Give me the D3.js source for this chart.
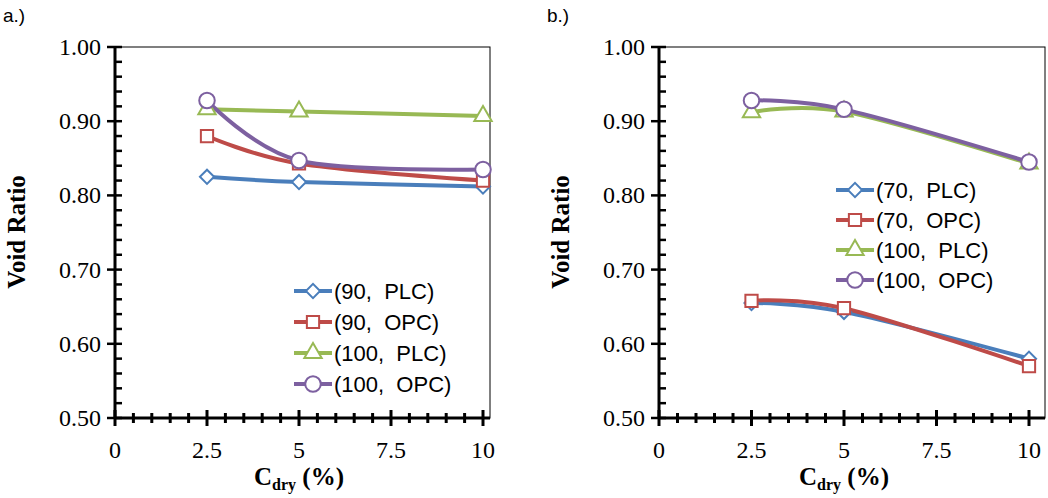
<!DOCTYPE html><html><head><meta charset="utf-8">
<script src="https://cdn.jsdelivr.net/npm/d3@7"></script>
<style>body{margin:0;background:#fff} text{white-space:pre}</style></head><body>
<svg id="c" width="1048" height="498"></svg>
<script>
const xVals=[2.5,5,10];
const xTicks=[0,2.5,5,7.5,10];
const yTicks=[0.5,0.6,0.7,0.8,0.9,1.0];
const colors=["#4a7ebb","#be4b48","#98b954","#7d60a0"];
const markers=["diamond","square","triangle","circle"];
const labelsA=["(90,  PLC)","(90,  OPC)","(100,  PLC)","(100,  OPC)"];
const valuesA=[[0.825,0.818,0.812],[0.880,0.843,0.820],[0.916,0.913,0.907],[0.928,0.847,0.835]];
const labelsB=["(70,  PLC)","(70,  OPC)","(100,  PLC)","(100,  OPC)"];
const valuesB=[[0.655,0.643,0.580],[0.658,0.648,0.570],[0.912,0.913,0.843],[0.928,0.916,0.845]];

const svg=d3.select("#c");
const symMap={diamond:d3.symbolSquare,square:d3.symbolSquare,triangle:d3.symbolTriangle,circle:d3.symbolCircle};
const sizes={diamond:100,square:150,triangle:130,circle:190};
function mk(g,k,cx,cy){
  const m=markers[k];
  g.append("path").attr("d",d3.symbol().type(symMap[m]).size(sizes[m])()).attr("transform",`translate(${cx},${cy})`+(m==="diamond"?" rotate(45)":"")).attr("fill","#fff").attr("stroke",colors[k]).attr("stroke-width",2);
}
function panel(o){
  const x=d3.scaleLinear().domain([0,10]).range([o.x0,o.x10]);
  const y=d3.scaleLinear().domain([0.5,1.0]).range([418,47]);
  const g=svg.append("g");
  g.append("rect").attr("x",o.x0).attr("y",47).attr("width",o.right-o.x0).attr("height",371).attr("fill","none").attr("stroke","#000").attr("stroke-width",1);
  g.append("line").attr("x1",o.x0).attr("x2",o.right).attr("y1",418).attr("y2",418).attr("stroke","#000").attr("stroke-width",3);
  g.append("line").attr("x1",o.x0).attr("x2",o.x0).attr("y1",47).attr("y2",418).attr("stroke","#000").attr("stroke-width",3);
  d3.range(0,10.01,0.5).forEach(v=>{const maj=Math.abs(v/2.5-Math.round(v/2.5))<1e-6;
    g.append("line").attr("x1",x(v)).attr("x2",x(v)).attr("y1",maj?410:413).attr("y2",maj?426:423).attr("stroke","#000").attr("stroke-width",3);});
  xTicks.forEach(v=>g.append("text").attr("x",x(v)).attr("y",458).attr("text-anchor","middle").attr("font-family","Liberation Serif").attr("font-size",24).text(v));
  d3.range(0.5,1.001,0.02).forEach(v=>{const maj=Math.abs(v*10-Math.round(v*10))<1e-6;
    g.append("line").attr("x1",maj?o.x0-8:o.x0).attr("x2",o.x0+7).attr("y1",y(v)).attr("y2",y(v)).attr("stroke","#000").attr("stroke-width",2.5);});
  yTicks.forEach(v=>g.append("text").attr("x",o.x0-14).attr("y",y(v)+8).attr("text-anchor","end").attr("font-family","Liberation Serif").attr("font-size",24).text(v.toFixed(2)));
  const t=g.append("text").attr("x",(o.x0+o.x10)/2).attr("y",485).attr("text-anchor","middle").attr("font-family","Liberation Serif").attr("font-weight","bold").attr("font-size",25);
  t.append("tspan").text("C");t.append("tspan").attr("font-size",16).attr("dy",5).text("dry");t.append("tspan").attr("dy",-5).text(" (%)");
  g.append("text").attr("transform",`translate(${o.x0-90},232) rotate(-90)`).attr("text-anchor","middle").attr("font-family","Liberation Serif").attr("font-weight","bold").attr("font-size",25).text("Void Ratio");
  g.append("text").attr("x",o.x0-112).attr("y",22).attr("font-family","Liberation Sans").attr("font-size",19).text(o.title);
  const line=d3.line().x((d,i)=>x(xVals[i])).y(d=>y(d)).curve(d3.curveCardinal.tension(0));
  o.values.forEach((vals,k)=>g.append("path").attr("d",line(vals)).attr("fill","none").attr("stroke",colors[k]).attr("stroke-width",4));
  o.values.forEach((vals,k)=>vals.forEach((v,i)=>mk(g,k,x(xVals[i]),y(v))));
  o.labels.forEach((l,k)=>{
    const ly=o.ly+k*o.ld;
    g.append("line").attr("x1",o.lx).attr("x2",o.lx+38).attr("y1",ly).attr("y2",ly).attr("stroke",colors[k]).attr("stroke-width",4);
    mk(g,k,o.lx+19,ly);
    g.append("text").attr("x",o.lx+40).attr("y",ly+8).attr("font-family","Liberation Sans").attr("font-size",22).text(l);
  });
}
panel({x0:115,x10:483,right:490,title:"a.)",values:valuesA,labels:labelsA,lx:294,ly:291,ld:31});
panel({x0:659,x10:1029,right:1045,title:"b.)",values:valuesB,labels:labelsB,lx:836,ly:190,ld:30});
</script></body></html>
